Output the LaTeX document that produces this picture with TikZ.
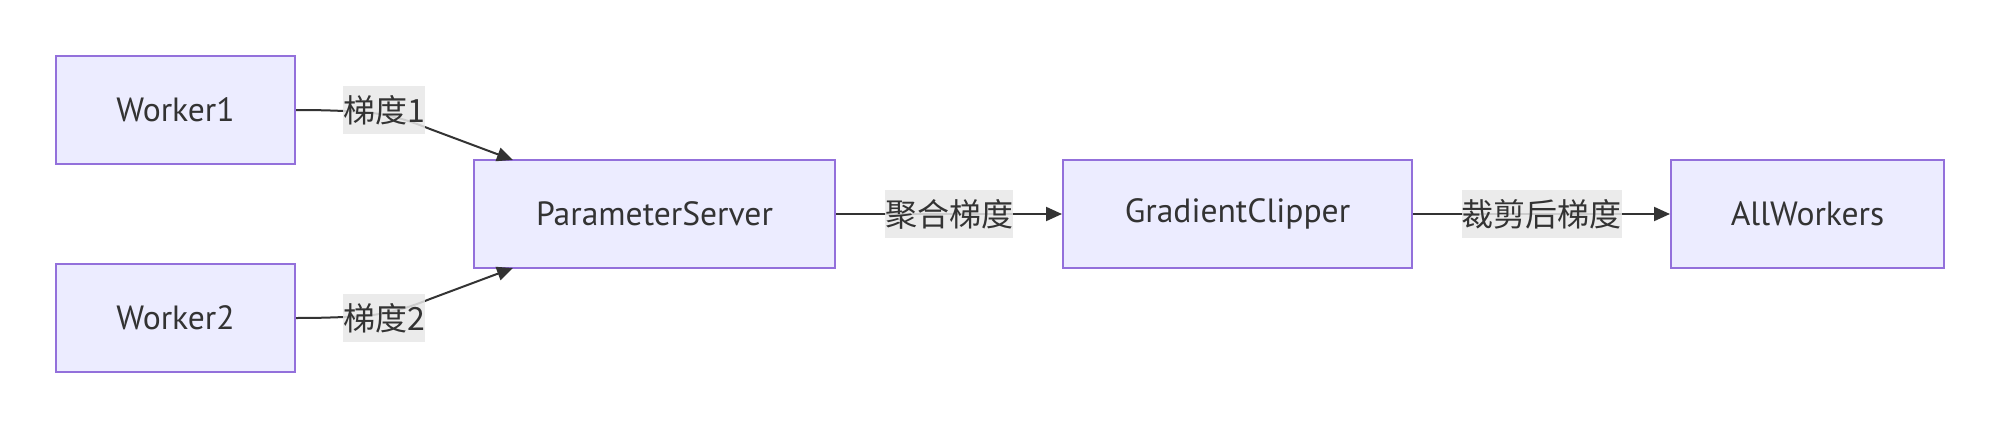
\documentclass[tikz,border=0pt]{standalone}
\usepackage{fontspec}
\setmainfont{PT Sans}
\newfontfamily\cjk{Noto Sans CJK SC}
\usetikzlibrary{arrows.meta}
\definecolor{boxfill}{HTML}{ECECFF}
\definecolor{boxdraw}{HTML}{9370DB}
\definecolor{ink}{HTML}{333333}
\definecolor{lblbg}{HTML}{E8E8E8}
\tikzset{
  box/.style={draw=boxdraw, fill=boxfill, line width=1pt, text=ink, minimum height=54pt, inner sep=0pt,
    font=\fontsize{16.8pt}{20pt}\selectfont},
  lbl/.style={fill=lblbg, fill opacity=0.85, text opacity=1, text=ink, inner xsep=0pt, inner ysep=0pt,
    minimum height=24pt, font=\cjk\fontsize{16pt}{20pt}\selectfont},
  edge/.style={draw=ink, line width=1pt, -{Triangle[length=8pt,width=7pt]}},
}
\begin{document}
\begin{tikzpicture}[x=0.5pt,y=-0.5pt]
\useasboundingbox (0,0) rectangle (1999,428);
\node[box, minimum width=119.5pt] (w1) at (175.5,110) {Worker1};
\node[box, minimum width=119.5pt] (w2) at (175.5,318) {Worker2};
\node[box, minimum width=180.5pt] (ps) at (654.5,214) {ParameterServer};
\node[box, minimum width=174.5pt] (gc) at (1237.5,214) {GradientClipper};
\node[box, minimum width=136.5pt] (aw) at (1807.5,214) {AllWorkers};
\coordinate (t1) at (513,160);
\coordinate (t2) at (513,268);
\draw[edge] (w1.east) .. controls (320,110) and (330,110.5) .. (345,111) .. controls (380,112) and (400,117) .. (430,129) -- (t1);
\draw[edge] (w2.east) .. controls (320,318) and (330,317.5) .. (345,317) .. controls (380,316) and (400,311) .. (430,299) -- (t2);
\draw[edge] (ps.east) -- (gc.west);
\draw[edge] (gc.east) -- (aw.west);
\node[lbl] (l1) at (384,110) {梯度1};
\node[lbl] (l2) at (384,318) {梯度2};
\node[lbl] (l3) at (949,214) {聚合梯度};
\node[lbl] (l4) at (1541.5,214) {裁剪后梯度};
\end{tikzpicture}
\end{document}
